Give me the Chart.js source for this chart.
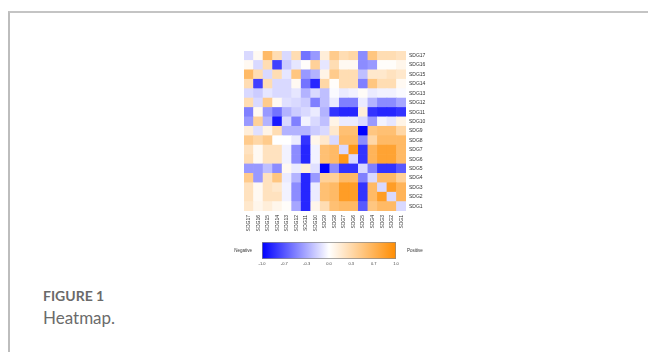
<!DOCTYPE html>
<html>
<head>
<meta charset="utf-8">
<script src="https://cdn.jsdelivr.net/npm/chart.js@4/dist/chart.umd.min.js"></script>
<style>
  body { margin: 0; background: #fff; width: 648px; height: 352px; overflow: hidden; position: relative; font-family: Lato, "Open Sans", sans-serif; }
  .frame { position: absolute; left: 8px; top: 11px; width: 700px; height: 400px; border-left: 2px solid #bdbdbd; border-top: 2px solid #c4c4c4; }
  #heat { position: absolute; left: 240px; top: 45px; }
  #scale { position: absolute; left: 222px; top: 238px; }
  .fig { position: absolute; left: 43px; top: 287px; font-size: 14px; font-weight: 700; color: #6a6a6a; }
  .cap { position: absolute; left: 43px; top: 307px; font-size: 17px; color: #6b6b6b; }
</style>
</head>
<body>
<div class="frame"></div>
<canvas id="heat" width="200" height="190"></canvas>
<canvas id="scale" width="210" height="34"></canvas>
<div class="fig">FIGURE 1</div>
<div class="cap">Heatmap.</div>
<script>
// Labels, columns left->right and rows top->bottom
const sdgLabels = ['SDG17', 'SDG16', 'SDG15', 'SDG14', 'SDG13', 'SDG12', 'SDG11', 'SDG10', 'SDG9',
  'SDG8', 'SDG7', 'SDG6', 'SDG5', 'SDG4', 'SDG3', 'SDG2', 'SDG1'];

// Correlation values (row = sdgLabels[i], top to bottom)
const corr = [
  [-0.15, 0.05, 0.6, 0.3, -0.15, 0.3, -0.55, -0.4, 0.15, 0.45, 0.3, 0.35, -0.45, 0.5, 0.3, 0.3, 0.25],
  [0.05, -0.15, 0.3, -0.75, -0.2, -0.1, 0.02, 0.4, -0.1, 0.3, 0.05, 0.05, -0.45, -0.4, 0.02, 0.02, 0.08],
  [0.6, 0.3, -0.15, 0.3, -0.1, 0.5, -0.4, -0.3, 0.1, 0.45, 0.3, 0.3, -0.25, 0.2, 0.2, 0.25, 0.2],
  [0.3, -0.75, 0.3, -0.15, -0.15, 0.05, -0.55, -0.85, 0.35, 0.02, 0.3, 0.3, -0.5, 0.5, 0.3, 0.3, 0.05],
  [-0.15, -0.2, -0.1, -0.15, -0.15, -0.1, -0.3, -0.15, -0.25, -0.02, -0.08, -0.05, 0.03, -0.08, -0.05, -0.05, -0.02],
  [0.3, -0.15, 0.45, 0.05, -0.12, -0.15, -0.2, -0.5, -0.25, -0.08, -0.5, -0.5, -0.08, -0.3, -0.45, -0.45, -0.35],
  [-0.5, 0.05, -0.4, -0.55, -0.3, -0.2, -0.15, -0.08, -0.3, -0.8, -0.85, -0.85, 0.15, -0.8, -0.85, -0.85, -0.8],
  [-0.4, 0.4, -0.3, -0.9, -0.15, -0.5, -0.05, -0.15, -0.25, 0.1, -0.08, -0.08, -0.15, -0.4, -0.05, -0.1, 0.1],
  [0.15, -0.12, 0.1, 0.3, -0.3, -0.3, -0.3, -0.2, -0.15, 0.2, 0.55, 0.55, -1.0, 0.5, 0.55, 0.55, 0.35],
  [0.45, 0.35, 0.45, 0.0, 0.0, -0.08, -0.8, 0.08, 0.2, -0.15, 0.6, 0.6, -0.45, 0.35, 0.6, 0.6, 0.6],
  [0.25, 0.05, 0.25, 0.25, -0.05, -0.45, -0.85, -0.05, 0.55, 0.6, -0.15, 0.9, -0.8, 0.65, 0.8, 0.8, 0.6],
  [0.3, 0.05, 0.25, 0.25, -0.05, -0.45, -0.85, -0.05, 0.55, 0.6, 0.9, -0.15, -0.8, 0.65, 0.8, 0.8, 0.6],
  [-0.4, -0.4, -0.25, -0.45, 0.05, -0.08, 0.15, -0.12, -1.0, -0.45, -0.8, -0.8, -0.15, -0.5, -0.8, -0.8, -0.65],
  [0.45, -0.4, 0.25, 0.5, -0.08, -0.3, -0.85, -0.4, 0.4, 0.4, 0.6, 0.6, -0.5, -0.15, 0.6, 0.6, 0.4],
  [0.25, 0.05, 0.25, 0.2, -0.05, -0.45, -0.85, -0.08, 0.55, 0.6, 0.85, 0.85, -0.8, 0.6, -0.15, 0.85, 0.65],
  [0.25, 0.05, 0.25, 0.25, -0.05, -0.45, -0.85, -0.08, 0.55, 0.6, 0.85, 0.85, -0.8, 0.6, 0.85, -0.15, 0.65],
  [0.2, 0.08, 0.15, 0.08, 0.02, -0.35, -0.85, 0.08, 0.3, 0.55, 0.6, 0.6, -0.65, 0.5, 0.6, 0.6, -0.15]
];

// Colour bar ticks
const barTicks = [-1, -0.667, -0.333, 0, 0.333, 0.667, 1];
const barTickLabels = ['-1.0', '-0.7', '-0.3', '0.0', '0.3', '0.7', '1.0'];

// blue (-1) -> white (0) -> orange (+1)
function colorFor(v) {
  if (v < 0) {
    const t = Math.min(1, -v);
    const c = Math.round(255 * (1 - t));
    return `rgb(${c},${c},255)`;
  }
  const t = Math.min(1, v);
  return `rgb(255,${Math.round(255 - 115 * t)},${Math.round(255 * (1 - t))})`;
}

// Heatmap: stacked bars, one dataset per row, bottom row first
const rowsBottomUp = corr.map((row, i) => ({ row, i })).reverse();
new Chart(document.getElementById('heat'), {
  type: 'bar',
  data: {
    labels: sdgLabels,
    datasets: rowsBottomUp.map(r => ({
      label: sdgLabels[r.i],
      data: r.row.map(() => 1),
      backgroundColor: r.row.map(colorFor),
      borderWidth: 0,
      barPercentage: 1,
      categoryPercentage: 1
    }))
  },
  options: {
    responsive: false,
    animation: false,
    layout: { padding: { left: 4, top: 4 } },
    plugins: { legend: { display: false }, tooltip: { enabled: false } },
    scales: {
      x: {
        stacked: true,
        grid: { display: false, drawTicks: false },
        border: { display: false },
        ticks: { font: { size: 5, family: 'Liberation Sans' }, color: '#333', minRotation: 90, maxRotation: 90, padding: 4, autoSkip: false },
        afterFit: s => { s.height = 24; }
      },
      y: { stacked: true, min: 0, max: 17, display: false },
      y2: {
        type: 'category',
        labels: sdgLabels,
        position: 'right',
        offset: true,
        grid: { display: false, drawTicks: false },
        border: { display: false },
        ticks: { font: { size: 5, family: 'Liberation Sans' }, color: '#333', padding: 3, autoSkip: false },
        afterFit: s => { s.width = 34; }
      }
    }
  }
});

// Colour bar legend
const sideText = {
  id: 'sideText',
  afterDraw(chart) {
    const { ctx, chartArea } = chart;
    ctx.save();
    ctx.font = '4.5px "Liberation Sans"';
    ctx.fillStyle = '#333';
    ctx.textBaseline = 'middle';
    const mid = (chartArea.top + chartArea.bottom) / 2;
    ctx.textAlign = 'right';
    ctx.fillText('Negative', chartArea.left - 10, mid);
    ctx.textAlign = 'left';
    ctx.fillText('Positive', chartArea.right + 11, mid);
    ctx.restore();
  }
};

new Chart(document.getElementById('scale'), {
  type: 'bar',
  data: {
    labels: [''],
    datasets: [{
      data: [[-1, 1]],
      backgroundColor: ctx => {
        const area = ctx.chart.chartArea;
        if (!area) return '#fff';
        const g = ctx.chart.ctx.createLinearGradient(area.left, 0, area.right, 0);
        [-1, -0.5, 0, 0.5, 1].forEach(v => g.addColorStop((v + 1) / 2, colorFor(v)));
        return g;
      },
      borderColor: '#8a8a8a',
      borderWidth: 1,
      borderSkipped: false,
      barPercentage: 1,
      categoryPercentage: 1
    }]
  },
  options: {
    indexAxis: 'y',
    responsive: false,
    animation: false,
    layout: { padding: { left: 40, right: 36, top: 4 } },
    plugins: { legend: { display: false }, tooltip: { enabled: false } },
    scales: {
      x: {
        min: -1, max: 1,
        grid: { display: false, drawTicks: false },
        border: { display: false },
        afterBuildTicks: s => { s.ticks = barTicks.map(v => ({ value: v })); },
        ticks: {
          font: { size: 4, family: 'Liberation Sans' }, color: '#444', padding: 2,
          callback: (v, i) => barTickLabels[i]
        },
        afterFit: s => { s.height = 13; }
      },
      y: { display: false }
    }
  },
  plugins: [sideText]
});
</script>
</body>
</html>
